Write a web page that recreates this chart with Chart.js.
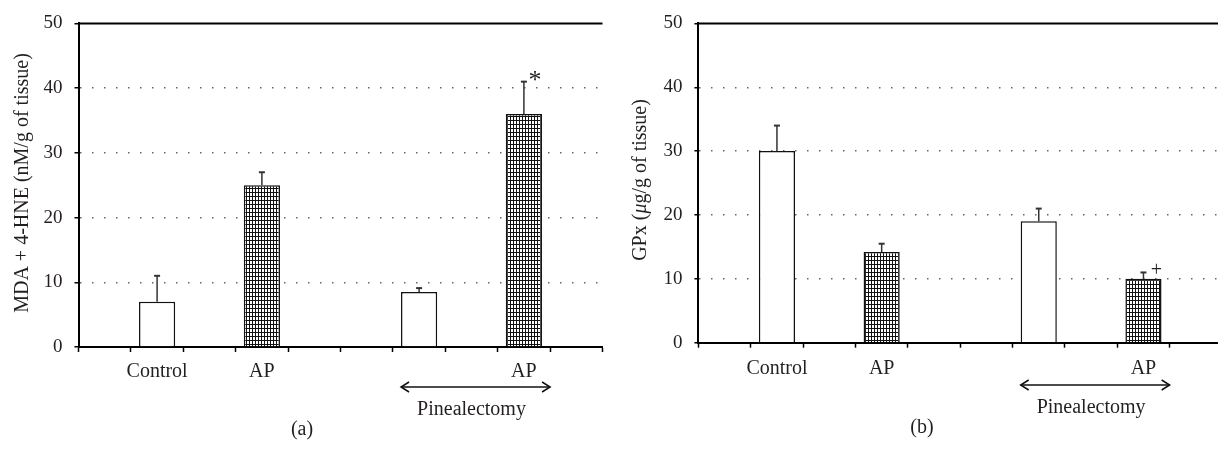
<!DOCTYPE html>
<html>
<head>
<meta charset="utf-8">
<script src="https://cdn.jsdelivr.net/npm/chart.js@4.4.0/dist/chart.umd.min.js"></script>
<style>
  html, body { margin: 0; padding: 0; background: #fff; }
  body { width: 1218px; height: 458px; overflow: hidden; position: relative; }
  canvas { position: absolute; top: 0; }
  #chart-a { left: 0; }
  #chart-b { left: 610px; }
</style>
</head>
<body>
<canvas id="chart-a" width="610" height="458"></canvas>
<canvas id="chart-b" width="612" height="458"></canvas>
<script>
// ten slots along the x axis, bars sit in 1, 3, 6 and 8
const slots = ['', 'Control', '', 'AP', '', '', '', '', 'AP', ''];
const hatchedSlots = [3, 8];
const mdaValues = [null, 7, null, 25, null, null, 8.5, null, 36, null];
const mdaErrors = [null, 4, null, 2, null, null, 0.6, null, 5, null];
const gpxValues = [null, 30, null, 14.2, null, null, 19, null, 10, null];
const gpxErrors = [null, 4, null, 1.3, null, null, 2, null, 1, null];
const yMax = 50;
const yStep = 10;

const SERIF = '"Liberation Serif", "Times New Roman", serif';
const INK = '#231f20';

function makeHatch(ctx) {
    const c = document.createElement('canvas');
    c.width = 3; c.height = 4;
    const g = c.getContext('2d');
    g.fillStyle = '#fff';
    g.fillRect(0, 0, 3, 4);
    g.fillStyle = '#111';
    g.fillRect(0, 0, 1, 4);
    g.fillRect(0, 0, 3, 1);
    return ctx.createPattern(c, 'repeat');
}

function line(ctx, x1, y1, x2, y2) {
    ctx.beginPath();
    ctx.moveTo(x1, y1);
    ctx.lineTo(x2, y2);
    ctx.stroke();
}

// draws the rotated y title, parts may be italic
function drawYTitle(ctx, parts, cx, cy) {
    ctx.save();
    ctx.translate(cx, cy);
    ctx.rotate(-Math.PI / 2);
    ctx.fillStyle = INK;
    ctx.textBaseline = 'middle';
    ctx.textAlign = 'left';
    const fontOf = p => (p.italic ? 'italic ' : '') + '20px ' + SERIF;
    let total = 0;
    parts.forEach(p => { ctx.font = fontOf(p); total += ctx.measureText(p.t).width; });
    let x = -total / 2;
    parts.forEach(p => {
        ctx.font = fontOf(p);
        ctx.fillText(p.t, x, 0);
        x += ctx.measureText(p.t).width;
    });
    ctx.restore();
}

function panelPlugin(p) {
    return {
        id: 'panelExtras',
        afterDatasetsDraw(chart) {
            const ctx = chart.ctx;
            const x = chart.scales.x;
            const y = chart.scales.y;
            const area = chart.chartArea;
            const bars = chart.getDatasetMeta(0).data;
            ctx.save();

            // solid frame line at the top value
            ctx.strokeStyle = '#000';
            ctx.lineWidth = 2;
            const yTop = y.getPixelForValue(yMax);
            line(ctx, area.left, yTop, area.right, yTop);

            // upward error bars
            ctx.strokeStyle = '#333';
            p.values.forEach((v, i) => {
                if (v == null) return;
                const bx = bars[i].x;
                const y0 = y.getPixelForValue(v);
                const y1 = y.getPixelForValue(v + p.errors[i]);
                ctx.lineWidth = 1.5;
                line(ctx, bx, y0, bx, y1);
                ctx.lineWidth = 2;
                line(ctx, bx - 3, y1, bx + 3, y1);
            });

            // significance mark on the last bar
            const last = 8;
            const markY = y.getPixelForValue(p.values[last] + p.errors[last]);
            ctx.fillStyle = INK;
            ctx.textAlign = 'center';
            ctx.textBaseline = 'alphabetic';
            ctx.font = p.markFont + ' ' + SERIF;
            ctx.fillText(p.mark, bars[last].x + p.markDx, markY + p.markDy);

            // pinealectomy arrow
            const ax1 = bars[6].x - bars[6].width / 2;
            const ax2 = (x.getPixelForValue(8) + x.getPixelForValue(9)) / 2;
            ctx.strokeStyle = '#111';
            ctx.lineWidth = 1.5;
            line(ctx, ax1, p.arrowY, ax2, p.arrowY);
            ctx.beginPath();
            ctx.moveTo(ax1 + 8, p.arrowY - 5);
            ctx.lineTo(ax1, p.arrowY);
            ctx.lineTo(ax1 + 8, p.arrowY + 5);
            ctx.moveTo(ax2 - 8, p.arrowY - 5);
            ctx.lineTo(ax2, p.arrowY);
            ctx.lineTo(ax2 - 8, p.arrowY + 5);
            ctx.stroke();

            ctx.font = '20px ' + SERIF;
            ctx.fillText('Pinealectomy', x.getPixelForValue(7), p.pinY);
            ctx.fillText(p.panel, p.panelX, p.panelY);

            drawYTitle(ctx, p.title, p.titleX, p.titleY);
            ctx.restore();
        }
    };
}

function makePanel(id, p) {
    const ctx = document.getElementById(id).getContext('2d');
    const hatch = makeHatch(ctx);
    const fills = slots.map((s, i) => hatchedSlots.includes(i) ? hatch : '#fff');
    return new Chart(ctx, {
        type: 'bar',
        data: {
            labels: slots,
            datasets: [{
                data: p.values,
                backgroundColor: fills,
                borderColor: '#111',
                borderWidth: 1.5,
                barPercentage: 0.69,
                categoryPercentage: 1
            }]
        },
        options: {
            responsive: false,
            animation: false,
            devicePixelRatio: 1,
            layout: { padding: { left: 0, right: p.padRight, top: p.padTop, bottom: 0 } },
            plugins: {
                legend: { display: false },
                tooltip: { enabled: false }
            },
            scales: {
                x: {
                    afterFit: s => { s.height = p.xHeight; },
                    grid: {
                        offset: true,
                        drawOnChartArea: false,
                        drawTicks: true,
                        tickLength: 5,
                        tickColor: '#000',
                        tickWidth: 1.5
                    },
                    border: { color: '#000', width: 2 },
                    ticks: {
                        autoSkip: false,
                        maxRotation: 0,
                        padding: p.xPad,
                        color: INK,
                        font: { family: SERIF, size: 20 }
                    }
                },
                y: {
                    min: 0,
                    max: yMax,
                    afterFit: s => { s.width = p.yWidth; },
                    grid: {
                        color: c => (c.tick.value === 0 || c.tick.value === yMax) ? 'rgba(0,0,0,0)' : '#666',
                        lineWidth: 1.5,
                        tickLength: 4,
                        tickColor: '#000',
                        tickWidth: 1.5
                    },
                    border: { color: '#000', width: 2, dash: [1.5, 10.5] },
                    ticks: {
                        stepSize: yStep,
                        padding: 12,
                        color: INK,
                        font: { family: SERIF, size: 19 }
                    }
                }
            }
        },
        plugins: [panelPlugin(p)]
    });
}

makePanel('chart-a', {
    values: mdaValues,
    errors: mdaErrors,
    padRight: 7.5, padTop: 19, xHeight: 111, yWidth: 78.5, xPad: 8,
    mark: '*', markFont: '26px', markDx: 11, markDy: 6,
    arrowY: 387, pinY: 415, panel: '(a)', panelX: 302, panelY: 435,
    title: [{ t: 'MDA + 4-HNE (nM/g of tissue)' }], titleX: 23, titleY: 183
});

makePanel('chart-b', {
    values: gpxValues,
    errors: gpxErrors,
    padRight: 0, padTop: 14.3, xHeight: 115.3, yWidth: 88.4, xPad: 9,
    mark: '+', markFont: '20px', markDx: 13, markDy: 4,
    arrowY: 385, pinY: 413, panel: '(b)', panelX: 312, panelY: 433,
    title: [{ t: 'GPx (' }, { t: 'μ', italic: true }, { t: 'g/g of tissue)' }], titleX: 31, titleY: 180
});
</script>
</body>
</html>
